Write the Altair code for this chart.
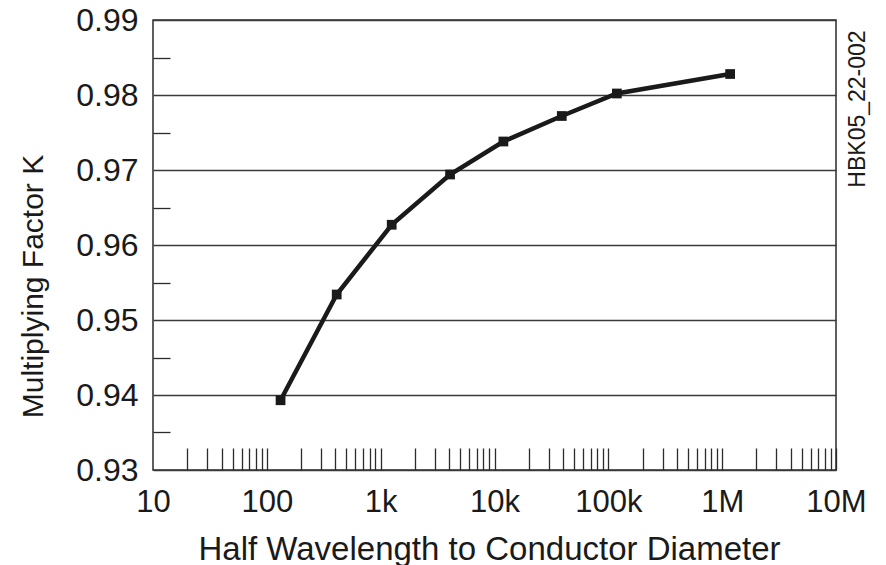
import altair as alt
import pandas as pd

# data
ratio = [132, 411, 1250, 4070, 11970, 39000, 118800, 1175000]
k_factor = [0.9393, 0.9534, 0.9627, 0.9694, 0.9738, 0.9772, 0.9802, 0.9828]

x_major = [10, 100, 1000, 10000, 100000, 1000000, 10000000]
x_minor = [m * 10 ** e for e in range(1, 7) for m in range(2, 11)]
y_major = [0.93, 0.94, 0.95, 0.96, 0.97, 0.98, 0.99]
y_minor = [0.935, 0.945, 0.955, 0.965, 0.975, 0.985]

df = pd.DataFrame({"ratio": ratio, "k": k_factor})

FONT = "Liberation Sans"
DARK = "#2b2b2b"

xscale = alt.Scale(type="log", domain=[10, 10000000], nice=False)
yscale = alt.Scale(domain=[0.93, 0.99], nice=False, zero=False)

label_expr = ("datum.value >= 1000000 ? format(datum.value/1000000,'d') + 'M' : "
              "datum.value >= 1000 ? format(datum.value/1000,'d') + 'k' : format(datum.value,'d')")

line = alt.Chart(df).mark_line(color="#1a1a1a", strokeWidth=4.5).encode(
    x=alt.X("ratio:Q", scale=xscale,
            axis=alt.Axis(orient="bottom", values=x_major, labelExpr=label_expr,
                          ticks=False, domain=False, grid=False,
                          labelFont=FONT, labelFontSize=31, labelColor="#1a1a1a",
                          labelPadding=17, labelFlush=False,
                          title="Half Wavelength to Conductor Diameter",
                          titleFont=FONT, titleFontSize=33, titleFontWeight="normal",
                          titleColor="#1a1a1a", titleX=336, titleY=89,
                          titleAlign="center", titleBaseline="alphabetic")),
    y=alt.Y("k:Q", scale=yscale,
            axis=alt.Axis(orient="left", values=y_major, format=".2f",
                          ticks=False, domain=False,
                          grid=True, gridColor="#3a3a3a", gridWidth=1.5,
                          labelFont=FONT, labelFontSize=32, labelColor="#1a1a1a",
                          labelPadding=15, labelFlush=False,
                          title="Multiplying Factor K",
                          titleFont=FONT, titleFontSize=30, titleFontWeight="normal",
                          titleColor="#1a1a1a", titleAngle=-90,
                          titleX=-120, titleY=266,
                          titleAlign="center", titleBaseline="middle")),
)

pts = alt.Chart(df).mark_square(color="#1a1a1a", size=95, opacity=1).encode(
    x=alt.X("ratio:Q", scale=xscale, axis=None),
    y=alt.Y("k:Q", scale=yscale, axis=None),
)

# inner minor ticks drawn as axes placed inside the frame
minor_x = alt.Chart(df).mark_point(opacity=0).encode(
    x=alt.X("ratio:Q", scale=xscale,
            axis=alt.Axis(orient="top", values=x_minor, offset=-450,
                          tickSize=22, tickColor=DARK, tickWidth=1.3,
                          labels=False, domain=False, grid=False, title=None)),
    y=alt.Y("k:Q", scale=yscale, axis=None),
)
minor_y = alt.Chart(df).mark_point(opacity=0).encode(
    x=alt.X("ratio:Q", scale=xscale, axis=None),
    y=alt.Y("k:Q", scale=yscale,
            axis=alt.Axis(orient="right", values=y_minor, offset=-683,
                          tickSize=17, tickColor=DARK, tickWidth=1.3,
                          labels=False, domain=False, grid=False, title=None)),
)

code = alt.Chart(pd.DataFrame({"t": ["HBK05_22-002"]})).mark_text(
    font=FONT, fontSize=23, angle=270, color="#1a1a1a", align="center", baseline="middle"
).encode(
    text="t:N",
    x=alt.value(705),
    y=alt.value(89),
)

chart = alt.layer(line, pts, minor_x, minor_y, code).resolve_axis(
    x="independent", y="independent"
).properties(
    width=683, height=450,
    autosize=alt.AutoSizeParams(type="none"),
    padding={"left": 145, "top": 12, "right": 42, "bottom": 95},
).configure_view(
    stroke=DARK, strokeWidth=1.5
)

chart.save("out.html", embed_options={"renderer": "svg", "actions": False})
